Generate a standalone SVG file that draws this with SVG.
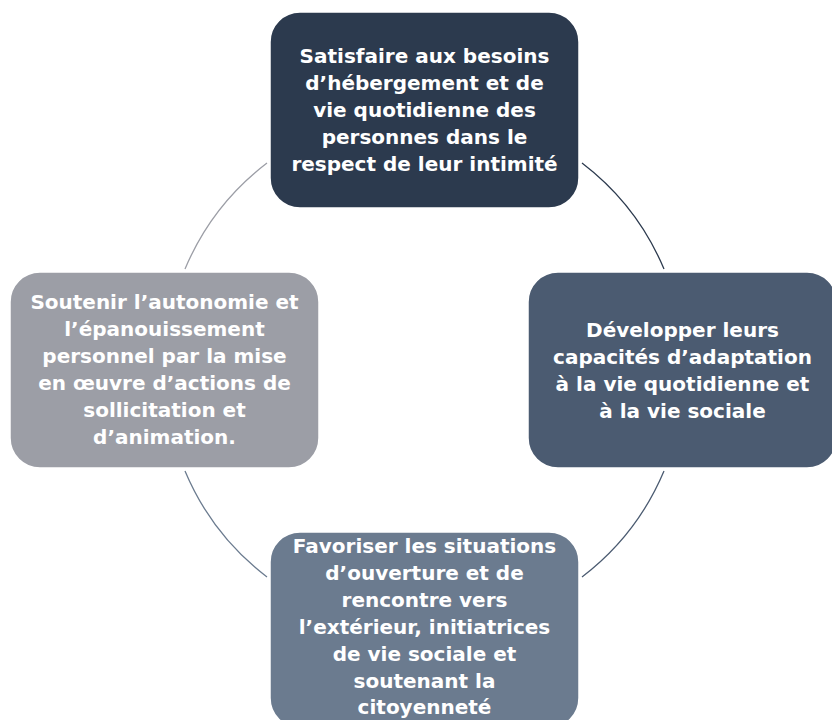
<svg xmlns="http://www.w3.org/2000/svg" width="832" height="720" viewBox="0 0 832 720">
<style>
.box{stroke:#ffffff;stroke-width:1.5}
.t{font-family:"DejaVu Sans","Liberation Sans",sans-serif;font-weight:bold;font-size:20px;fill:#ffffff;text-anchor:middle}
.arc{fill:none;stroke-width:1.3}
</style>
<rect width="832" height="720" fill="#ffffff"/>
<g id="connectors">
<path class="arc" stroke="#2c3a4e" d="M 582 163 A 260 260 0 0 1 664 269"/>
<path class="arc" stroke="#4b5b71" d="M 664 471 A 260 260 0 0 1 582 577"/>
<path class="arc" stroke="#6b7b8f" d="M 267 577 A 260 260 0 0 1 185 471"/>
<path class="arc" stroke="#9c9ea6" d="M 185 269 A 260 260 0 0 1 267 163"/>
</g>
<g id="node-top">
<rect class="box" x="270" y="12" width="309" height="196" rx="30" fill="#2c3a4e"/>
<text class="t" x="424.5" y="63">Satisfaire aux besoins</text>
<text class="t" x="424.5" y="90">d’hébergement et de</text>
<text class="t" x="424.5" y="117">vie quotidienne des</text>
<text class="t" x="424.5" y="144">personnes dans le</text>
<text class="t" x="424.5" y="171">respect de leur intimité</text>
</g>
<g id="node-right">
<rect class="box" x="528" y="272" width="309" height="196" rx="30" fill="#4b5b71"/>
<text class="t" x="682.5" y="337">Développer leurs</text>
<text class="t" x="682.5" y="364">capacités d’adaptation</text>
<text class="t" x="682.5" y="391">à la vie quotidienne et</text>
<text class="t" x="682.5" y="418">à la vie sociale</text>
</g>
<g id="node-bottom">
<rect class="box" x="270" y="532" width="309" height="196" rx="30" fill="#6b7b8f"/>
<text class="t" x="424.5" y="553">Favoriser les situations</text>
<text class="t" x="424.5" y="580">d’ouverture et de</text>
<text class="t" x="424.5" y="607">rencontre vers</text>
<text class="t" x="424.5" y="634">l’extérieur, initiatrices</text>
<text class="t" x="424.5" y="661">de vie sociale et</text>
<text class="t" x="424.5" y="688">soutenant la</text>
<text class="t" x="424.5" y="714">citoyenneté</text>
</g>
<g id="node-left">
<rect class="box" x="10" y="272" width="309" height="196" rx="30" fill="#9c9ea6"/>
<text class="t" x="164.5" y="309">Soutenir l’autonomie et</text>
<text class="t" x="164.5" y="336">l’épanouissement</text>
<text class="t" x="164.5" y="363">personnel par la mise</text>
<text class="t" x="164.5" y="390">en œuvre d’actions de</text>
<text class="t" x="164.5" y="417">sollicitation et</text>
<text class="t" x="164.5" y="444">d’animation.</text>
</g>
</svg>
